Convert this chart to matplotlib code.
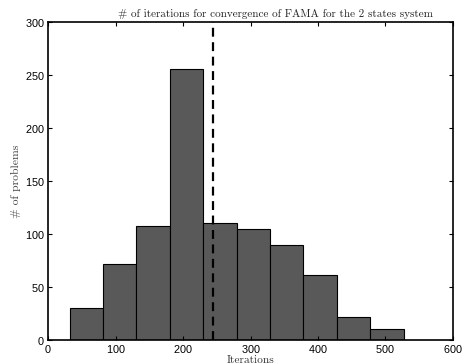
import numpy as np
import matplotlib
matplotlib.use('Agg')
import matplotlib.pyplot as plt

# histogram
bin_edges = [31.5, 81, 130.5, 180.5, 230, 279.5, 329, 378.5, 428, 477.5, 528]
counts = [30, 72, 107, 255, 110, 105, 90, 61, 22, 10]
mean_iter = 244

xticks = [0, 100, 200, 300, 400, 500, 600]
yticks = [0, 50, 100, 150, 200, 250, 300]

plt.rcParams['axes.formatter.use_mathtext'] = True
fig = plt.figure(figsize=(4.64, 3.64), dpi=100)
ax = fig.add_axes([0.1041, 0.0659, 0.8716, 0.8745])

edges = np.array(bin_edges)
ax.bar(edges[:-1], counts, width=np.diff(edges), align='edge',
       color='#595959', edgecolor='black', linewidth=0.8)
ax.axvline(mean_iter, color='black', linestyle=(0, (4, 2.5)), linewidth=1.6)

ax.set_xlim(0, 600)
ax.set_ylim(0, 300)
ax.set_xticks(xticks)
ax.set_yticks(yticks)
ax.tick_params(direction='in', top=True, right=True, length=3, width=0.8,
               labelsize=7.8, pad=2.5)
for lab in ax.get_xticklabels() + ax.get_yticklabels():
    lab.set_fontfamily('Liberation Sans')
for s in ax.spines.values():
    s.set_linewidth(1.2)

ax.set_xlabel('Iterations', fontfamily='cmr10', fontsize=8.2, color='#333333')
ax.xaxis.set_label_coords(0.5, -0.048)
ax.set_ylabel('# of problems', fontfamily='cmr10', fontsize=8.4, labelpad=3,
              color='#444444')
fig.text(0.594, 0.953, '# of iterations for convergence of FAMA for the 2 states system',
         fontfamily='cmr10', fontsize=8, ha='center', va='baseline', color='#222222')

fig.savefig('out.png', dpi=100)
